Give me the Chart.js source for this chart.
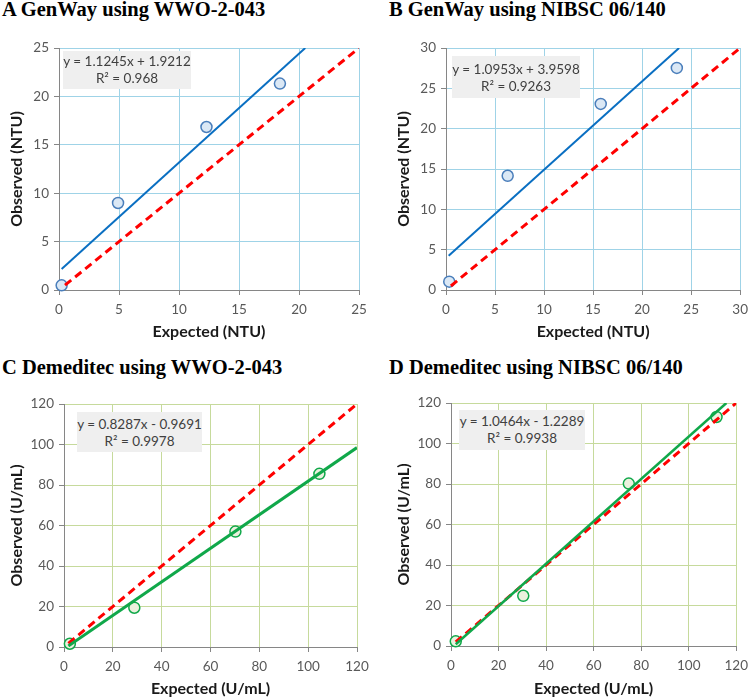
<!DOCTYPE html>
<html>
<head>
<meta charset="utf-8">
<script src="https://cdn.jsdelivr.net/npm/chart.js@4.4.0/dist/chart.umd.min.js"></script>
<style>
  body { margin: 0; background: #fff; }
  #wrap { position: relative; width: 755px; height: 698px; overflow: hidden; }
  .ptitle { position: absolute; font-family: "Liberation Serif", "Times New Roman", serif; font-weight: bold; font-size: 20.5px; line-height: 1; color: #000; white-space: nowrap; }
  .eq { position: absolute; background: #efefef; color: #404040; font-family: Lato, sans-serif; font-size: 13.5px; line-height: 17px; text-align: center; box-sizing: border-box; white-space: nowrap; }
  canvas { position: absolute; }
</style>
</head>
<body>
<div id="wrap"></div>
<script>
// Panel titles
const panelTitles = ['A GenWay using WWO-2-043', 'B GenWay using NIBSC 06/140', 'C Demeditec using WWO-2-043', 'D Demeditec using NIBSC 06/140'];
const xTitles = ['Expected (NTU)', 'Expected (NTU)', 'Expected (U/mL)', 'Expected (U/mL)'];
const yTitles = ['Observed (NTU)', 'Observed (NTU)', 'Observed (U/mL)', 'Observed (U/mL)'];
const axisMax = [25, 30, 120, 120];
const axisStep = [5, 5, 20, 20];

// Regression labels
const equations = ['y = 1.1245x + 1.9212', 'y = 1.0953x + 3.9598', 'y = 0.8287x - 0.9691', 'y = 1.0464x - 1.2289'];
const rSquared = ['0.968', '0.9263', '0.9978', '0.9938'];

// Measured points (expected vs observed)
const expectedA = [0.22, 4.92, 12.29, 18.41];
const observedA = [0.48, 8.99, 16.84, 21.32];
const expectedB = [0.33, 6.29, 15.78, 23.54];
const observedB = [1.03, 14.16, 23.07, 27.53];
const expectedC = [2.4, 28.8, 70.2, 104.6];
const observedC = [1.6, 19.4, 57.0, 85.5];
const expectedD = [2.0, 30.4, 74.8, 111.7];
const observedD = [2.3, 24.8, 80.2, 113.1];

// Trend line end points as drawn
const fitXA = [0.22, 20.52], fitYA = [2.17, 25];
const fitXB = [0.27, 23.77], fitYB = [4.26, 30];
const fitXC = [1.8, 120], fitYC = [0.52, 98.48];
const fitXD = [2.0, 115.85], fitYD = [0.86, 120];

// Line of identity end points
const identA = [0.5, 25];
const identB = [0.5, 30];
const identC = [1.8, 120];
const identD = [2.0, 120];

const expected = [expectedA, expectedB, expectedC, expectedD];
const observed = [observedA, observedB, observedC, observedD];
const fitX = [fitXA, fitXB, fitXC, fitXD];
const fitY = [fitYA, fitYB, fitYC, fitYD];
const ident = [identA, identB, identC, identD];

// Page layout (pixels)
const layout = [
    { left: 0,   top: 30,  w: 377, h: 319, area: { l: 59,  t: 48,  r: 359, b: 290 }, yTitleX: 17,  xTitleY: 332, titleX: 2,   titleY: -1,  eq: { l: 63,  t: 51,  w: 128, h: 38, pt: 2 } },
    { left: 377, top: 30,  w: 378, h: 319, area: { l: 446, t: 48,  r: 746, b: 290 }, yTitleX: 404, xTitleY: 332, titleX: 389, titleY: -1,  eq: { l: 452, t: 56,  w: 128, h: 42, pt: 5 } },
    { left: 0,   top: 380, w: 377, h: 318, area: { l: 64,  t: 404, r: 357, b: 647 }, yTitleX: 17,  xTitleY: 689, titleX: 2,   titleY: 357, eq: { l: 77,  t: 412, w: 125, h: 40, pt: 4 } },
    { left: 377, top: 380, w: 378, h: 318, area: { l: 451, t: 403, r: 743, b: 646 }, yTitleX: 404, xTitleY: 689, titleX: 389, titleY: 357, eq: { l: 459, t: 410, w: 126, h: 40, pt: 3 } }
];

const styles = [
    { grid: '#9fd3e7', fit: '#0a6fc2', fitWidth: 2, mark: '#4a7ebb', markFill: '#dbe8f5' },
    { grid: '#9fd3e7', fit: '#0a6fc2', fitWidth: 2, mark: '#4a7ebb', markFill: '#dbe8f5' },
    { grid: '#c6da9c', fit: '#10a84a', fitWidth: 3, mark: '#10a84a', markFill: '#ebf1de' },
    { grid: '#c6da9c', fit: '#10a84a', fitWidth: 2.5, mark: '#10a84a', markFill: '#ebf1de' }
];

const wrap = document.getElementById('wrap');
const titleSize = 16;
const titleFont = { family: 'Lato', size: titleSize, weight: 'bold', lineHeight: 1.2 };
const lh = titleSize * 1.2;
const tickFont = { family: 'Lato', size: 13.5 };

layout.forEach((L, i) => {
    const S = styles[i];

    const t = document.createElement('div');
    t.className = 'ptitle';
    t.style.left = L.titleX + 'px';
    t.style.top = L.titleY + 'px';
    t.textContent = panelTitles[i];
    wrap.appendChild(t);

    const canvas = document.createElement('canvas');
    canvas.width = L.w;
    canvas.height = L.h;
    canvas.style.left = L.left + 'px';
    canvas.style.top = L.top + 'px';
    wrap.appendChild(canvas);

    const padLeft = Math.max(0, L.yTitleX - L.left - lh / 2);
    const padBottom = Math.max(0, (L.top + L.h - L.xTitleY) - lh / 2);
    const yWidth = (L.area.l - L.left) - padLeft;
    const xHeight = (L.top + L.h - L.area.b) - padBottom;

    new Chart(canvas.getContext('2d'), {
        type: 'scatter',
        data: {
            datasets: [
                {
                    label: 'fit',
                    data: fitX[i].map((x, k) => ({ x: x, y: fitY[i][k] })),
                    showLine: true,
                    borderColor: S.fit,
                    borderWidth: S.fitWidth,
                    pointRadius: 0,
                    order: 1
                },
                {
                    label: 'identity',
                    data: ident[i].map(v => ({ x: v, y: v })),
                    showLine: true,
                    borderColor: '#ff0000',
                    borderWidth: 3,
                    borderDash: [8, 5],
                    pointRadius: 0,
                    order: 2
                },
                {
                    label: 'observed',
                    data: expected[i].map((x, k) => ({ x: x, y: observed[i][k] })),
                    showLine: false,
                    clip: false,
                    pointRadius: 5.5,
                    pointBorderWidth: 1.5,
                    pointBorderColor: S.mark,
                    pointBackgroundColor: S.markFill,
                    order: 3
                }
            ]
        },
        options: {
            responsive: false,
            animation: false,
            devicePixelRatio: 1,
            layout: { padding: { left: padLeft, top: L.area.t - L.top, right: L.left + L.w - L.area.r, bottom: padBottom } },
            plugins: { legend: { display: false }, tooltip: { enabled: false } },
            scales: {
                x: {
                    type: 'linear', min: 0, max: axisMax[i],
                    ticks: { stepSize: axisStep[i], color: '#595959', padding: 7, font: tickFont },
                    grid: { color: S.grid, tickColor: '#868686', tickLength: 5 },
                    border: { color: '#868686', width: 1 },
                    title: { display: true, text: xTitles[i], color: '#1a1a1a', font: titleFont, padding: 0 },
                    afterFit: s => { s.height = xHeight; }
                },
                y: {
                    type: 'linear', min: 0, max: axisMax[i],
                    ticks: { stepSize: axisStep[i], color: '#595959', padding: 5, font: tickFont },
                    grid: { color: S.grid, tickColor: '#868686', tickLength: 5 },
                    border: { color: '#868686', width: 1 },
                    title: { display: true, text: yTitles[i], color: '#1a1a1a', font: titleFont, padding: 0 },
                    afterFit: s => { s.width = yWidth; }
                }
            }
        }
    });

    const eq = document.createElement('div');
    eq.className = 'eq';
    eq.style.left = L.eq.l + 'px';
    eq.style.top = L.eq.t + 'px';
    eq.style.width = L.eq.w + 'px';
    eq.style.height = L.eq.h + 'px';
    eq.style.paddingTop = L.eq.pt + 'px';
    eq.innerHTML = equations[i] + '<br>R² = ' + rSquared[i];
    wrap.appendChild(eq);
});
</script>
</body>
</html>
